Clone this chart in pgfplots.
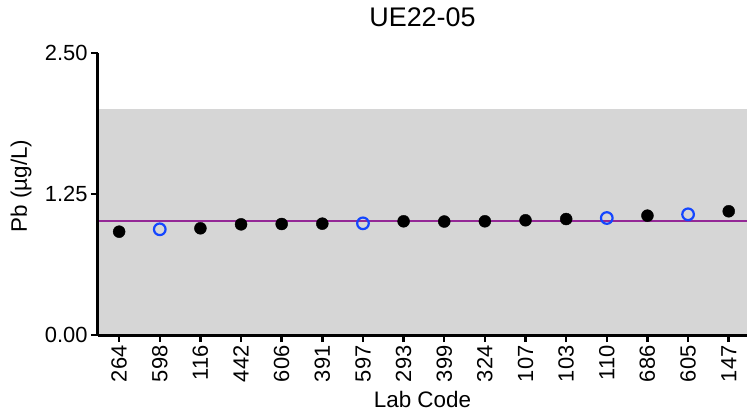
\documentclass[border=0pt]{standalone}
\usepackage{fontspec}
\setmainfont{Liberation Sans}
\usepackage{pgfplots}
\pgfplotsset{compat=1.18}
\definecolor{band}{RGB}{214,214,214}
\definecolor{refline}{RGB}{148,40,150}
\definecolor{openblue}{RGB}{20,70,255}
\begin{document}
\begin{tikzpicture}
\begin{axis}[
  at={(0,0)}, anchor=south west,
  width=649bp, height=282bp, scale only axis,
  xmin=-0.52, xmax=15.45, ymin=0, ymax=2.5,
  axis lines*=left,
  x axis line style={-, line width=3bp},
  y axis line style={-, line width=3bp},
  axis on top,
  ytick={0,1.25,2.5},
  yticklabel style={/pgf/number format/.cd, fixed, fixed zerofill, precision=2},
  xtick={0,...,15},
  xticklabels={264,598,116,442,606,391,597,293,399,324,107,103,110,686,605,147},
  xticklabel style={rotate=90, anchor=east},
  xtick pos=bottom, ytick pos=left,
  xtick align=outside, ytick align=outside,
  major tick length=7bp,
  every tick/.style={black, line width=2.5bp},
  ticklabel style={font=\fontsize{22}{22}\selectfont},
  /pgf/number format/assume math mode=true,
  xlabel={Lab Code}, ylabel={Pb (µg/L)},
  xlabel style={font=\fontsize{22.5}{22.5}\selectfont, at={(rel axis cs:0.5,0)}, anchor=base, yshift=-72bp},
  ylabel style={font=\fontsize{22.5}{22.5}\selectfont, at={(rel axis cs:0,0.5)}, anchor=base, xshift=8bp, yshift=71bp},
  title={UE22-05},
  title style={font=\fontsize{27}{27}\selectfont, at={(rel axis cs:0.5,1)}, anchor=base, yshift=21bp},
]
\addplot[draw=none, fill=band] coordinates {(-0.52,2.0) (15.45,2.0)} \closedcycle;
\addplot[refline, line width=2bp] coordinates {(-0.52,1.01) (15.45,1.01)};
\addplot[only marks, mark=*, mark size=6bp, black] coordinates {
(0,0.916) (2,0.946) (3,0.981) (4,0.984) (5,0.987) (7,1.008) (8,1.006) (9,1.008) (10,1.017) (11,1.028) (13,1.058) (15,1.097)};
\addplot[only marks, mark=o, mark size=5.8bp, openblue, line width=2.2bp] coordinates {
(1,0.937) (6,0.990) (12,1.037) (14,1.070)};
\end{axis}
\pgfresetboundingbox
\path[use as bounding box] (-98bp,-77bp) rectangle (649bp,335bp);
\end{tikzpicture}
\end{document}
